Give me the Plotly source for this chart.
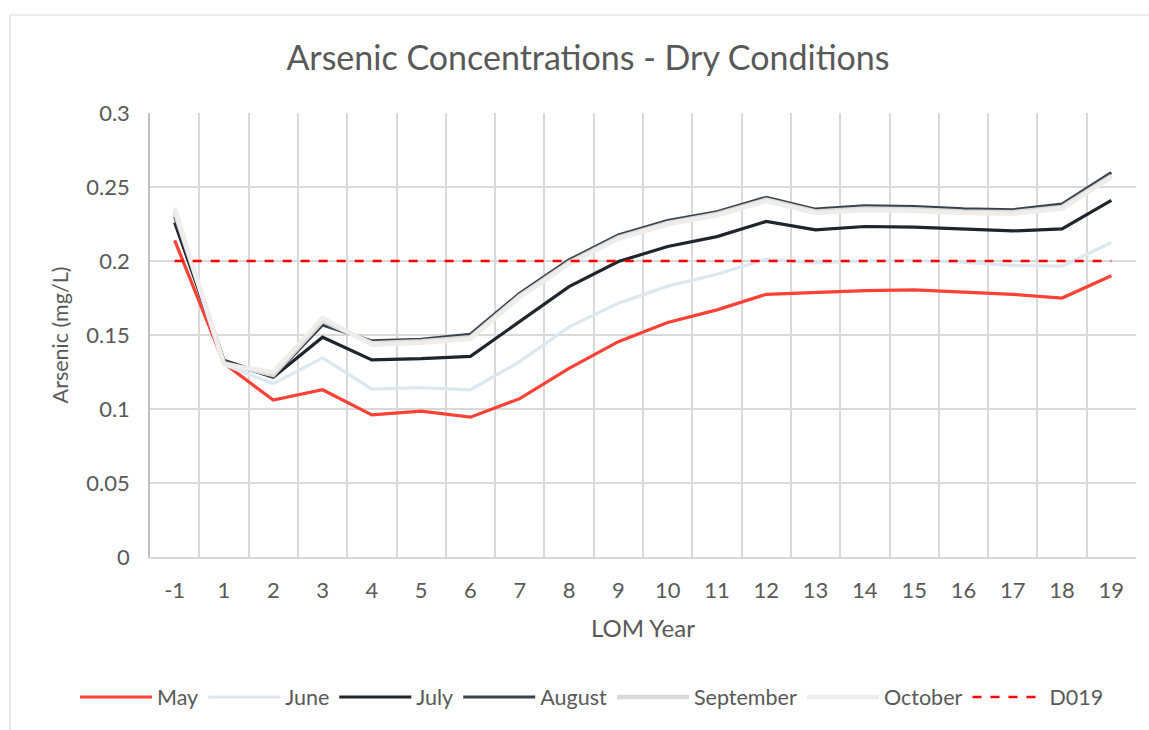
import plotly.graph_objects as go

years = ["-1", "1", "2", "3", "4", "5", "6", "7", "8", "9", "10",
         "11", "12", "13", "14", "15", "16", "17", "18", "19"]

may = [0.214, 0.131, 0.106, 0.113, 0.096, 0.0985, 0.0945, 0.107, 0.1275, 0.1455,
       0.1585, 0.167, 0.1775, 0.1787, 0.180, 0.1805, 0.179, 0.1775, 0.175, 0.190]
june = [0.229, 0.130, 0.117, 0.1345, 0.1135, 0.1145, 0.113, 0.132, 0.1555, 0.1715,
        0.183, 0.191, 0.2012, 0.1988, 0.2, 0.2005, 0.199, 0.197, 0.1965, 0.2125]
july = [0.226, 0.132, 0.1215, 0.1485, 0.1332, 0.1340, 0.1356, 0.159, 0.1827, 0.1996,
        0.2098, 0.2165, 0.2267, 0.221, 0.2233, 0.2229, 0.2215, 0.2203, 0.2217, 0.241]
august = [0.230, 0.133, 0.122, 0.1568, 0.146, 0.1471, 0.1505, 0.1782, 0.2007, 0.2176,
          0.2273, 0.2333, 0.243, 0.235, 0.2373, 0.2368, 0.2352, 0.2346, 0.2385, 0.2598]
september = [0.233, 0.131, 0.123, 0.1595, 0.1445, 0.1458, 0.1485, 0.1765, 0.199, 0.216,
             0.2258, 0.2318, 0.2415, 0.2335, 0.2355, 0.235, 0.2335, 0.233, 0.2365, 0.2575]
october = [0.236, 0.130, 0.125, 0.1615, 0.1435, 0.1448, 0.1475, 0.1755, 0.198, 0.215,
           0.2248, 0.2308, 0.2405, 0.2325, 0.2345, 0.234, 0.2325, 0.232, 0.2355, 0.2565]
d019 = [0.2] * len(years)

series = [
    ("May", may, "#FF4136", 3.2, None),
    ("June", june, "#DCE8F1", 3.2, None),
    ("July", july, "#1E252C", 3.2, None),
    ("August", august, "#38424D", 3.2, None),
    ("September", september, "#DAD9D7", 4.5, None),
    ("October", october, "#EEEDEB", 4.5, None),
    ("D019", d019, "#FF0000", 2.4, "dash"),
]

FONT = "Lato, 'Open Sans', sans-serif"
TXT = "#595959"

fig = go.Figure()
for name, vals, col, w, dash in series:
    fig.add_trace(go.Scatter(
        x=years, y=vals, mode="lines", name=name,
        line=dict(color=col, width=w, dash=dash),
    ))

fig.update_layout(
    width=1149, height=730,
    paper_bgcolor="white", plot_bgcolor="white",
    margin=dict(l=150, r=13, t=113, b=173),
    font=dict(family=FONT, color=TXT),
    title=dict(text="Arsenic Concentrations - Dry Conditions",
               x=(588 - 150) / 986, xanchor="center", xref="paper",
               y=1 - 58 / 730, yanchor="middle",
               font=dict(size=34, color=TXT, family=FONT)),
    showlegend=True,
    legend=dict(orientation="h", x=(75 - 150) / 986, xanchor="left",
                y=(557 - 697) / 444, yanchor="middle",
                font=dict(size=21.5, color=TXT, family=FONT), itemwidth=72,
                bgcolor="rgba(0,0,0,0)"),
    xaxis=dict(type="category", range=[-0.5, 19.5], tickson="boundaries",
               showgrid=True, gridcolor="#D9D9D9", gridwidth=1.5,
               showline=True, linecolor="#D9D9D9", linewidth=1.5,
               ticks="", tickfont=dict(size=22, color=TXT), ticklabelstandoff=13,
               title=dict(text="LOM Year", font=dict(size=24, color=TXT), standoff=18)),
    yaxis=dict(range=[0, 0.3], tickvals=[0, 0.05, 0.1, 0.15, 0.2, 0.25, 0.3],
               ticktext=["0", "0.05", "0.1", "0.15", "0.2", "0.25", "0.3"],
               showgrid=True, gridcolor="#D9D9D9", gridwidth=1.5, zeroline=False,
               showline=True, linecolor="#BFBFBF", linewidth=1.5,
               ticks="", tickfont=dict(size=22, color=TXT), ticklabelstandoff=14,
               title=dict(text="Arsenic (mg/L)", font=dict(size=21.5, color=TXT), standoff=12)),
    shapes=[
        dict(type="line", xref="paper", yref="paper",
             x0=(10 - 150) / 986, x1=(1160 - 150) / 986,
             y0=(557 - 15) / 444, y1=(557 - 15) / 444,
             line=dict(color="#D9D9D9", width=1.2)),
        dict(type="line", xref="paper", yref="paper",
             x0=(10 - 150) / 986, x1=(10 - 150) / 986,
             y0=(557 - 15) / 444, y1=(557 - 740) / 444,
             line=dict(color="#D9D9D9", width=1.2)),
    ],
)

fig.write_html("out.html", config={"displayModeBar": False},
               post_script="document.body.style.margin='0px';")
